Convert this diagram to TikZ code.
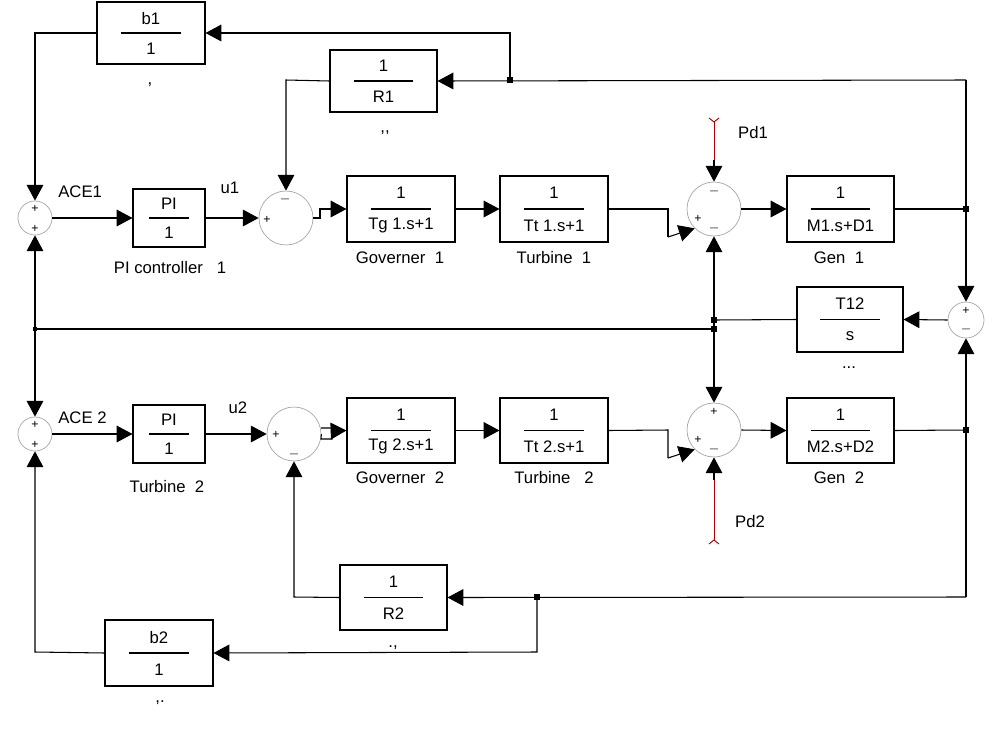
\documentclass[tikz,border=0pt]{standalone}
\usepackage{fontspec}
\setmainfont{Liberation Sans}
\usetikzlibrary{arrows.meta}
\begin{document}
\begin{tikzpicture}[x=0.02cm,y=-0.02cm,
  txt/.style={font=\fontsize{9.5}{11}\selectfont,inner sep=0pt},
  blk/.style={draw,thick,inner sep=0pt,line width=0.6pt},
  sum/.style={circle,draw=gray!70,line width=0.4pt,inner sep=0pt},
  sg/.style={font=\fontsize{7}{8}\selectfont,inner sep=0pt},
  ln/.style={line width=0.6pt},
  arr/.style={ln,-{Triangle[length=9pt,width=9.5pt]}},
  dot/.style={fill,inner sep=0pt,minimum size=3pt,rectangle}]
\useasboundingbox (0,0) rectangle (992,731);
\newcommand{\blkbox}[7]{%
  \node[blk,minimum width={(#4-#2)*0.02cm},minimum height={(#5-#3)*0.02cm}] (#1) at ({(#2+#4)/2},{(#3+#5)/2}) {};
  \draw[ln] ({(#2+#4)/2-(#4-#2)*0.28},{(#3+#5)/2}) -- ({(#2+#4)/2+(#4-#2)*0.28},{(#3+#5)/2});
  \node[txt] (#1n) at ({(#2+#4)/2},{(#3+#5)/2-(#5-#3)*0.24}) {#6};
  \node[txt] (#1d) at ({(#2+#4)/2},{(#3+#5)/2+(#5-#3)*0.25}) {#7};}
% blocks
\blkbox{bone}{97}{2}{205}{64}{b1}{1}
\blkbox{rone}{330}{50}{437}{112}{1}{R1}
\blkbox{pione}{133}{189}{205}{247}{PI}{1}
\blkbox{govone}{347}{176}{455}{242}{1}{Tg 1.s+1}
\blkbox{turone}{500}{176}{608}{242}{1}{Tt 1.s+1}
\blkbox{genone}{787}{176}{894}{242}{1}{M1.s+D1}
\blkbox{tot}{797}{287}{903}{352}{T12}{s}
\blkbox{pitwo}{133}{405}{205}{463}{PI}{1}
\blkbox{govtwo}{347}{398}{455}{463}{1}{Tg 2.s+1}
\blkbox{turtwo}{500}{398}{608}{463}{1}{Tt 2.s+1}
\blkbox{gentwo}{787}{398}{894}{463}{1}{M2.s+D2}
\blkbox{rtwo}{340}{565}{447}{630}{1}{R2}
\blkbox{btwo}{105}{620}{213}{686}{b2}{1}
% captions
\node[txt] (c1) at (150,85) {,};
\node[txt] (c2) at (385,133) {,{},};
\node[txt] (c3) at (170,268) {PI controller\ \ \ 1};
\node[txt] (c4) at (400,258) {Governer\ \ 1};
\node[txt] (c5) at (554,258) {Turbine\ \ 1};
\node[txt] (c6) at (839,258) {Gen\ \ 1};
\node[txt] (c7) at (849,368) {...};
\node[txt] (c8) at (167,487) {Turbine\ \ 2};
\node[txt] (c9) at (400,478) {Governer\ \ 2};
\node[txt] (c10) at (554,478) {Turbine\ \ \ 2};
\node[txt] (c11) at (839,478) {Gen\ \ 2};
\node[txt] (c12) at (393,648) {.,};
\node[txt] (c13) at (160,703) {,.};
\node[txt,anchor=west] (l1) at (58,192) {ACE1};
\node[txt,anchor=west] (l2) at (58,418) {ACE 2};
\node[txt] (l3) at (230,188) {u1};
\node[txt] (l4) at (238,408) {u2};
\node[txt] (l5) at (753,133) {Pd1};
\node[txt] (l6) at (750,522) {Pd2};
% sums
\node[sum,minimum size=34*0.02cm] (ace1) at (35,218) {};
\node[sg] at (35,209) {+}; \node[sg] at (35,229) {+};
\node[sum,minimum size=34*0.02cm] (ace2) at (35,434) {};
\node[sg] at (35,425) {+}; \node[sg] at (35,445) {+};
\node[sum,minimum size=54*0.02cm] (su1) at (286,218) {};
\node[sg] at (285,199) {$-$}; \node[sg] at (267,220) {+};
\node[sum,minimum size=54*0.02cm] (su2) at (294,434) {};
\node[sg] at (276,435) {+}; \node[sg] at (294,454) {$-$};
\node[sum,minimum size=54*0.02cm] (sp1) at (714,209) {};
\node[sg] at (714,191) {$-$}; \node[sg] at (698,219) {+}; \node[sg] at (714,228) {$-$};
\node[sum,minimum size=54*0.02cm] (sp2) at (714,430) {};
\node[sg] at (714,412) {+}; \node[sg] at (698,440) {+}; \node[sg] at (714,449) {$-$};
\node[sum,minimum size=36*0.02cm] (sr) at (966,320) {};
\node[sg] at (966,311) {+}; \node[sg] at (966,329) {$-$};
% junctions
\node[dot] (j1) at (966,209) {};
\node[dot] (j2) at (966,430) {};
\node[dot] (j3) at (510,80) {};
\node[dot] (j4) at (537,597) {};
\node[dot] (j5) at (714,320) {};
\node[dot] (j6) at (714,329) {};
\node[dot,minimum size=2pt] (j7) at (35,329) {};
\coordinate (pd1) at (714,122);
\coordinate (pd2) at (714,540);
% forward path 1
\draw[arr] (ace1) -- (pione.west);
\draw[arr] (pione.east) -- (su1.west);
\draw[arr] (su1.east) -- (320,218) -- (320,209) -- (govone.west);
\draw[arr] (govone.east) -- (turone.west);
\draw[ln] (turone.east) -- (668,209) -- (668,237);
\draw[arr] (668,237) -- (sp1.225);
\draw[arr] (sp1.east) -- (genone.west);
\draw[ln] (genone.east) -- (j1);
% forward path 2
\draw[arr] (ace2) -- (pitwo.west);
\draw[arr] (pitwo.east) -- (su2.west);
\draw[ln] (su2.east) -- (321,439) -- (332,439) -- (332,428) -- (321,428);
\draw[arr] (332,431) -- (govtwo.west);
\draw[arr] (govtwo.east) -- (turtwo.west);
\draw[ln] (turtwo.east) -- (668,430) -- (668,458);
\draw[arr] (668,458) -- (sp2.225);
\draw[arr] (sp2.east) -- (gentwo.west);
\draw[ln] (gentwo.east) -- (j2);
% disturbances
\draw[red!70!black,line width=0.5pt] (709,118) -- (pd1) -- (719,118);
\draw[red!70!black,line width=0.5pt] (pd1) -- (714,160);
\draw[arr] (714,160) -- (sp1.north);
\draw[red!70!black,line width=0.5pt] (709,544) -- (pd2) -- (719,544);
\draw[red!70!black,line width=0.5pt] (pd2) -- (714,480);
\draw[arr] (714,480) -- (sp2.south);
% tie line
\draw[arr] (j1) -- (sr.north);
\draw[arr] (j2) -- (sr.south);
\draw[ln] (966,209) -- (966,80);
\draw[ln] (966,430) -- (966,597);
\draw[arr] (sr.west) -- (tot.east);
\draw[ln] (tot.west) -- (j5);
\draw[arr] (j5) -- (sp1.south);
\draw[arr] (j5) -- (sp2.north);
\draw[ln] (j6) -- (j7);
\draw[arr] (j7) -- (ace1.south);
\draw[arr] (j7) -- (ace2.north);
% top feedback
\draw[arr] (966,80) -- (rone.east);
\draw[arr] (j3) -- (510,33) -- (bone.east);
\draw[arr] (rone.west) -- (286,80) -- (su1.north);
\draw[arr] (bone.west) -- (35,33) -- (ace1.north);
% bottom feedback
\draw[arr] (966,597) -- (rtwo.east);
\draw[arr] (j4) -- (537,652) -- (btwo.east);
\draw[arr] (rtwo.west) -- (294,597) -- (su2.south);
\draw[arr] (btwo.west) -- (35,652) -- (ace2.south);
\end{tikzpicture}
\end{document}
